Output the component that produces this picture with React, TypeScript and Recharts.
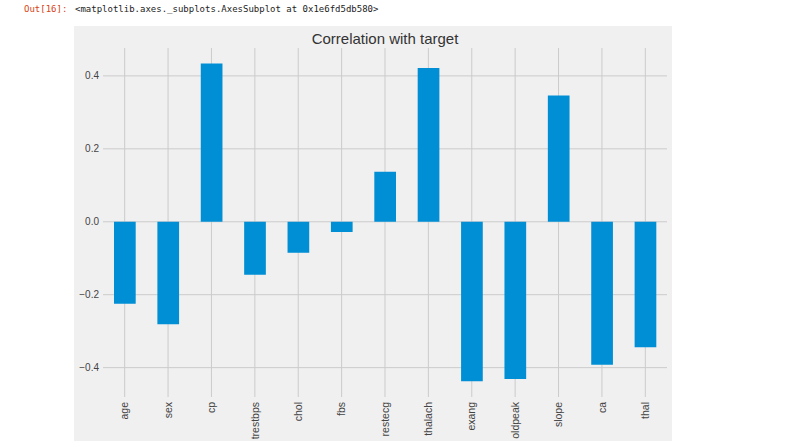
import React from "react";
import { BarChart, Bar, XAxis, YAxis, CartesianGrid } from "recharts";

const features = ["age", "sex", "cp", "trestbps", "chol", "fbs", "restecg", "thalach", "exang", "oldpeak", "slope", "ca", "thal"];
const correlations = [-0.225, -0.281, 0.434, -0.145, -0.085, -0.028, 0.137, 0.422, -0.437, -0.431, 0.346, -0.392, -0.344];
const yTicks = [-0.4, -0.2, 0.0, 0.2, 0.4];

const data = features.map((f, i) => ({ feature: f, value: correlations[i] }));

const fmt = (v: number) => (v < 0 ? "\u2212" : "") + Math.abs(v).toFixed(1);

const FONT = "Liberation Sans, Arial, sans-serif";

const XTick = (props: any) => {
  const { x, y, payload } = props;
  const ty = y + 5;
  return (
    <text
      x={x}
      y={ty}
      dy="0.35em"
      transform={`rotate(-90, ${x}, ${ty})`}
      textAnchor="end"
      fill="#444"
      fontSize={10.5}
      fontFamily={FONT}
    >
      {payload.value}
    </text>
  );
};

export default function App() {
  return (
    <div style={{ position: "absolute", left: 0, top: 0, width: 798, height: 447, background: "#fff", overflow: "hidden" }}>
      <div style={{ position: "absolute", left: 24, top: 4, fontFamily: "DejaVu Sans Mono, monospace", fontSize: 9, color: "#d84315" }}>
        Out[16]:
      </div>
      <div style={{ position: "absolute", left: 75, top: 4, fontFamily: "DejaVu Sans Mono, monospace", fontSize: 9, color: "#222" }}>
        {"<matplotlib.axes._subplots.AxesSubplot at 0x1e6fd5db580>"}
      </div>
      <div style={{ position: "absolute", left: 74, top: 26, width: 598, height: 415, background: "#f0f0f0" }}>
        <div
          style={{
            position: "absolute",
            left: 29,
            width: 564,
            top: 4,
            textAlign: "center",
            fontFamily: FONT,
            fontSize: 15,
            color: "#333",
          }}
        >
          Correlation with target
        </div>
        <BarChart width={598} height={415} data={data} margin={{ top: 22, right: 5, left: 0, bottom: 0 }}>
          <CartesianGrid stroke="#cbcbcb" strokeWidth={1} syncWithTicks />
          <XAxis
            dataKey="feature"
            type="category"
            interval={0}
            height={44}
            axisLine={false}
            tickLine={false}
            tickSize={0}
            tickMargin={0}
            tick={<XTick />}
          />
          <YAxis
            type="number"
            domain={[-0.4805, 0.4765]}
            ticks={yTicks}
            allowDataOverflow
            width={29}
            axisLine={false}
            tickLine={false}
            tickSize={4}
            tickMargin={0}
            tickFormatter={fmt}
            tick={{ fill: "#444", fontSize: 10, fontFamily: FONT }}
          />
          <Bar dataKey="value" fill="#008fd5" barSize={21.7} isAnimationActive={false} />
        </BarChart>
      </div>
    </div>
  );
}
